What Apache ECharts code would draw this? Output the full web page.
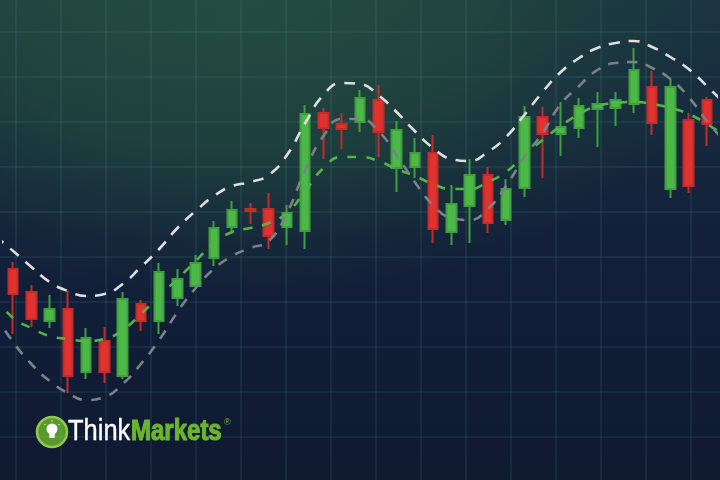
<!DOCTYPE html>
<html>
<head>
<meta charset="utf-8">
<script src="https://cdn.jsdelivr.net/npm/echarts@6/dist/echarts.min.js"></script>
<style>
html,body{margin:0;padding:0;background:#0f1a31;}
#chart{width:720px;height:480px;}
</style>
</head>
<body>
<div id="chart"></div>
<script>
// ---- data (price units) ----
const categories = ['1','2','3','4','5','6','7','8','9','10','11','12','13','14','15','16','17','18','19','20',
  '21','22','23','24','25','26','27','28','29','30','31','32','33','34','35','36','37','38','39'];
const opens  = [211,188,159,171,108,139,104,176,159,182,194,222,253,271,271,253,249,367,356,358,380,312,313,327,248,274,305,260,292,363,346,352,371,372,376,393,291,360,380];
const closes = [186,161,171,104,142,108,181,159,208,201,217,252,270,269,244,267,366,352,351,382,348,350,327,251,276,305,257,291,363,346,353,374,376,380,410,357,393,294,356];
const lows   = [146,153,152, 87,101, 97,101,149,146,174,193,214,248,256,231,235,231,321,331,348,323,288,302,237,235,237,247,255,283,302,324,342,333,354,367,345,282,287,334];
const highs  = [218,195,185,189,152,153,188,180,217,211,225,259,279,277,287,275,375,372,367,390,395,359,342,345,295,321,313,301,374,373,378,382,388,388,432,409,401,367,383];

// envelope lines, one value per slot from one before the first candle to one after the last
const lineSlots  = [-1,0,1,2,3,4,5,6,7,8,9,10,11,12,13,14,15,16,17,18,19,20,21,22,23,24,25,26,27,28,29,30,31,32,33,34,35,36,37,38,39];
const upperBand  = [244,229,213,198,189,184,186,196,213,231,252,269,284,294,298,305,325,357,385,397,396,385,368,349,332,321,319,328,343,365,388,408,422,432,437,439,433,423,411,394,376];
const middleBand = [183,162,152,144,141,139,141,150,166,184,201,219,237,248,252,257,267,289,312,323,323,319,311,304,296,291,291,298,308,325,340,354,366,374,377,378,376,372,366,356,344];
const lowerBand  = [165,138,116, 99, 87, 80, 83, 96,116,140,168,192,211,224,232,239,267,310,344,361,361,349,325,298,275,262,260,271,294,323,347,376,394,410,417,418,412,401,383,359,338];

const candleData = opens.map((o, i) => [o, closes[i], lows[i], highs[i]]);
const pair = arr => lineSlots.map((s, i) => [s, arr[i]]);

const hidden = {axisLine:{show:false}, axisTick:{show:false}, axisLabel:{show:false}, splitLine:{show:false}};
const gridLineStyle = {show:true, lineStyle:{color:'rgba(110,190,185,0.09)', width:2}};

const chart = echarts.init(document.getElementById('chart'), null, {renderer:'canvas'});
chart.setOption({
  animation: false,
  backgroundColor: {
    type:'linear', x:0, y:0, x2:0, y2:1,
    colorStops:[{offset:0,color:'#1a3440'},{offset:0.5,color:'#12203a'},{offset:1,color:'#0f1a31'}]
  },
  grid: [
    {left:4, right:4, top:0, bottom:0, outerBoundsMode:'none'},
    {left:-29, top:-13, width:765, height:495, outerBoundsMode:'none'}
  ],
  xAxis: [
    Object.assign({type:'category', data:categories, gridIndex:0, boundaryGap:true}, hidden),
    Object.assign({type:'value', gridIndex:0, min:-0.5, max:38.5}, hidden),
    {type:'value', gridIndex:1, min:0, max:765, interval:45, axisLine:{show:false}, axisTick:{show:false}, axisLabel:{show:false}, splitLine:gridLineStyle}
  ],
  yAxis: [
    Object.assign({type:'value', gridIndex:0, min:0, max:480}, hidden),
    {type:'value', gridIndex:1, min:0, max:495, interval:45, axisLine:{show:false}, axisTick:{show:false}, axisLabel:{show:false}, splitLine:gridLineStyle}
  ],
  graphic: [
    {type:'rect', z:-10, silent:true, scaleY:0.6, shape:{x:0,y:0,width:720,height:480},
      style:{fill:{type:'radial', x:0.32, y:0, r:1.05,
        colorStops:[{offset:0,color:'rgba(40,86,63,0.72)'},{offset:0.5,color:'rgba(38,84,62,0.52)'},{offset:0.8,color:'rgba(36,80,62,0.18)'},{offset:1,color:'rgba(36,80,62,0)'}]}}},
    {type:'group', z:100, children:[
      {type:'circle', shape:{cx:52, cy:432, r:15}, style:{fill:'#5a9a2c', stroke:'#92c94a', lineWidth:2.5}},
      {type:'circle', shape:{cx:52, cy:429, r:5.5}, style:{fill:'#ffffff'}},
      {type:'rect', shape:{x:49.3, y:432.5, width:5.4, height:5.5}, style:{fill:'#ffffff'}},
      {type:'line', shape:{x1:52, y1:420, x2:52, y2:421.5}, style:{stroke:'#ffffff', lineWidth:1}},
      {type:'line', shape:{x1:44.5, y1:424, x2:45.5, y2:425}, style:{stroke:'#ffffff', lineWidth:1}},
      {type:'line', shape:{x1:59.5, y1:424, x2:58.5, y2:425}, style:{stroke:'#ffffff', lineWidth:1}},
      {type:'text', x:68, y:432, scaleX:0.85, style:{text:'Think', font:'normal 30px "Liberation Sans", Arial, sans-serif', fill:'#ffffff', stroke:'#ffffff', lineWidth:0.4, verticalAlign:'middle'}},
      {type:'text', x:131, y:432, scaleX:0.80, style:{text:'Markets', font:'bold 30px "Liberation Sans", Arial, sans-serif', fill:'#6cb42e', stroke:'#6cb42e', lineWidth:1.2, verticalAlign:'middle'}},
      {type:'text', x:224, y:423, style:{text:'®', font:'normal 9px "Liberation Sans", Arial, sans-serif', fill:'#6cb42e', verticalAlign:'middle'}}
    ]}
  ],
  series: [
    {type:'candlestick', xAxisIndex:0, yAxisIndex:0, data:candleData, barWidth:10, z:3,
      itemStyle:{color:'#4cb848', color0:'#e0322f', borderColor:'#3f9f3e', borderColor0:'#c42b29', borderWidth:2}},
    {type:'line', xAxisIndex:1, yAxisIndex:0, data:pair(upperBand), smooth:0.5, symbol:'none', clip:false, z:5,
      lineStyle:{color:'#dcdee0', width:2.6, type:[11,9], cap:'butt'}},
    {type:'line', xAxisIndex:1, yAxisIndex:0, data:pair(middleBand), smooth:0.5, symbol:'none', clip:false, z:5,
      lineStyle:{color:'#52b448', width:2.6, type:[9,10], cap:'butt'}},
    {type:'line', xAxisIndex:1, yAxisIndex:0, data:pair(lowerBand), smooth:0.5, symbol:'none', clip:false, z:5,
      lineStyle:{color:'#7b8089', width:2.6, type:[10,9], cap:'butt'}}
  ]
});
</script>
</body>
</html>
